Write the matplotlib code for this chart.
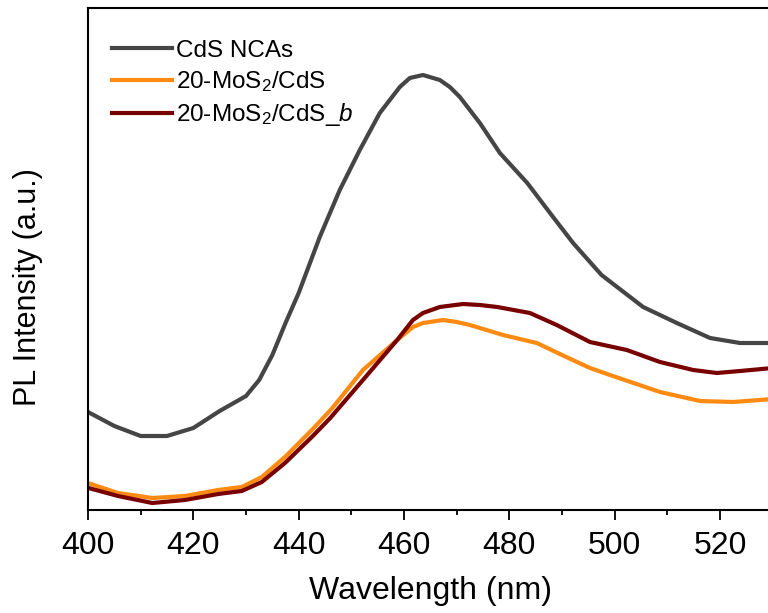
import matplotlib.pyplot as plt
from matplotlib.ticker import MultipleLocator

plt.rcParams['font.family'] = ['Liberation Sans', 'DejaVu Sans']
plt.rcParams['mathtext.fontset'] = 'custom'
plt.rcParams['mathtext.rm'] = 'Liberation Sans'
plt.rcParams['mathtext.it'] = 'Liberation Sans:italic'

# CdS NCAs
wl_cds = [400, 405, 410, 415, 420, 425, 430, 432.5, 435, 437.5, 440, 444, 447.8,
          451.6, 455.4, 457.3, 459.2, 461.1, 463.6, 466.8, 468.7, 470.6, 472.5,
          474.4, 478.2, 483.4, 488.3, 492.1, 497.5, 505.4, 511.8, 518.1, 523.8, 530]
pl_cds = [98, 84, 74, 74, 82, 99, 114, 130, 155, 187, 217, 273, 320,
          360, 397, 410, 423, 432, 435, 430, 423, 413, 400,
          387, 357, 327, 293, 267, 235, 203, 187, 172, 167, 167]

# 20-MoS2/CdS
wl_mos = [399.4, 405.7, 412.2, 418.4, 424.7, 429.2, 433, 437.4, 442.5, 446.4,
          452.2, 458.7, 461.7, 463.6, 467.4, 470, 472.5, 478.8, 485.2, 490,
          495.3, 499.1, 508.6, 516.2, 522.5, 530]
pl_mos = [28, 17, 12, 14, 20, 23, 33, 53, 80, 102,
          140, 170, 183, 187, 190, 188, 185, 175, 167, 155,
          142, 135, 118, 109, 108, 111]

# 20-MoS2/CdS_b
wl_b = [399.4, 405.7, 412.2, 418.4, 424.7, 429.2, 433, 437.4, 442.5, 446,
        452.2, 458.7, 461.7, 463.6, 466.8, 471.2, 474.4, 477.7, 483.9, 489,
        495.3, 502.3, 508.6, 514.9, 519.4, 523.8, 530]
pl_b = [23, 14, 7, 10, 16, 19, 28, 47, 73, 92,
        130, 170, 190, 197, 203, 206, 205, 203, 197, 185,
        168, 160, 148, 140, 137, 139, 142]

labels = ['CdS NCAs', '20-MoS$_2$/CdS', '20-MoS$_2$/CdS_$b$']
colors = ['#454545', '#FF8A12', '#780000']

fig = plt.figure(figsize=(7.68, 6.13), dpi=100)
ax = fig.add_axes([88 / 768, 103 / 613, 684.7 / 768, 502 / 613])

ax.plot(wl_cds, pl_cds, color=colors[0], lw=3, label=labels[0])
ax.plot(wl_mos, pl_mos, color=colors[1], lw=3, label=labels[1])
ax.plot(wl_b, pl_b, color=colors[2], lw=3, label=labels[2])

ax.set_xlim(400, 530)
ax.set_ylim(0, 502)
ax.xaxis.set_major_locator(MultipleLocator(20))
ax.xaxis.set_minor_locator(MultipleLocator(10))
ax.tick_params(axis='x', which='major', direction='out', length=7, width=1.3,
               labelsize=23, pad=8)
ax.tick_params(axis='x', which='minor', direction='out', length=3.5, width=1.3)
ax.set_yticks([])
for s in ax.spines.values():
    s.set_linewidth(1.5)

ax.set_xlabel('Wavelength (nm)', fontsize=23, labelpad=11)
ax.set_ylabel('PL Intensity (a.u.)', fontsize=22)
ax.yaxis.set_label_coords(-0.066, 0.445)

ax.legend(loc='upper left', bbox_to_anchor=(0.0, 0.985), frameon=False,
          fontsize=17.5, handlelength=2.45, handletextpad=0.15,
          labelspacing=0.3, borderaxespad=0.6)

fig.savefig('out.png', dpi=100)
